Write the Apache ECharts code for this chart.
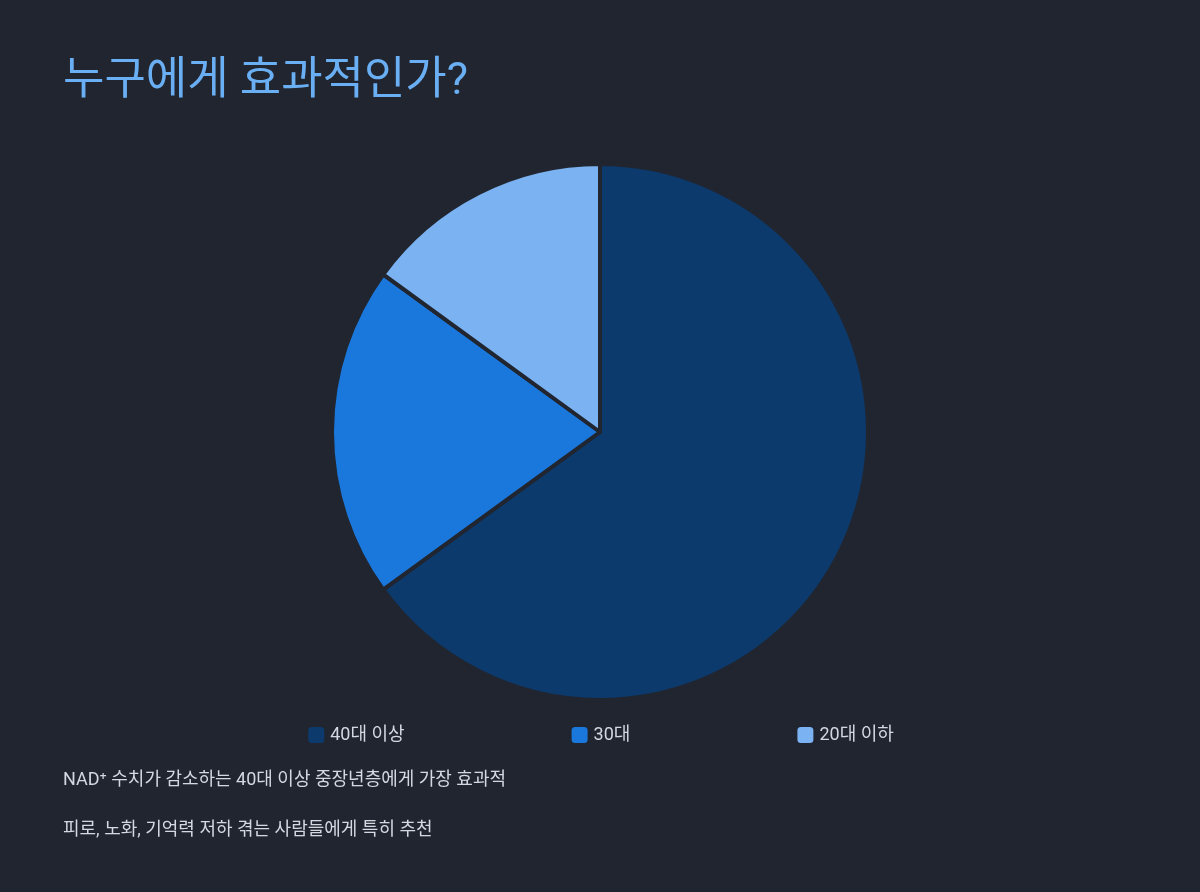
<!DOCTYPE html>
<html>
<head>
<meta charset="utf-8">
<script src="https://cdn.jsdelivr.net/npm/echarts@6/dist/echarts.min.js"></script>
<style>
html,body{margin:0;padding:0;background:#20252f;}
#main{width:1200px;height:892px;}
</style>
</head>
<body>
<div id="main"></div>
<script>
var ageGroups = ['40대 이상', '30대', '20대 이하'];
var shares = [65, 20, 15];
var sliceColors = ['#0d3a6c', '#1a78dc', '#7bb2f1'];
var notes = ['NAD⁺ 수치가 감소하는 40대 이상 중장년층에게 가장 효과적', '피로, 노화, 기억력 저하 겪는 사람들에게 특히 추천'];

var myChart = echarts.init(document.getElementById('main'));
var font = 'Roboto, "Noto Sans CJK KR", sans-serif';

var option = {
  backgroundColor: '#20252f',
  color: sliceColors,
  title: [{
    text: '누구에게 효과적인가?',
    left: 58, top: 55,
    textStyle: {color: '#6aaef3', fontSize: 45, fontWeight: 'normal', fontFamily: font}
  }, {
    text: notes[0],
    left: 58, top: 767,
    textStyle: {color: '#d4d8e0', fontSize: 18, fontWeight: 'normal', fontFamily: font}
  }, {
    text: notes[1],
    left: 58, top: 817,
    textStyle: {color: '#d4d8e0', fontSize: 18, fontWeight: 'normal', fontFamily: font}
  }],
  legend: {
    data: ageGroups,
    top: 720,
    left: 'center',
    itemWidth: 18,
    itemHeight: 18,
    itemGap: 165,
    icon: 'roundRect',
    textStyle: {color: '#d4d8e0', fontSize: 18, fontFamily: font}
  },
  series: [{
    type: 'pie',
    center: [600, 432],
    radius: [0, 268],
    startAngle: 90,
    clockwise: true,
    label: {show: false},
    labelLine: {show: false},
    itemStyle: {borderColor: '#20252f', borderWidth: 4},
    emphasis: {scale: false},
    data: ageGroups.map(function (name, i) {
      return {name: name, value: shares[i]};
    })
  }]
};

myChart.setOption(option);
</script>
</body>
</html>
